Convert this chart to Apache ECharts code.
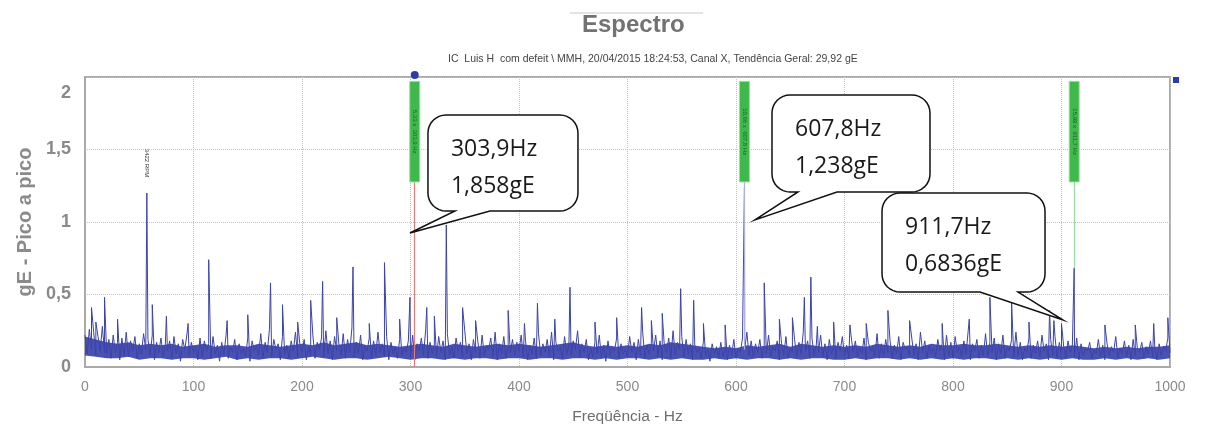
<!DOCTYPE html>
<html><head><meta charset="utf-8">
<script src="https://cdn.jsdelivr.net/npm/echarts@6/dist/echarts.min.js"></script>
<style>html,body{margin:0;padding:0;background:#fff}#c{width:1213px;height:430px}</style>
</head><body><div id="c"></div>
<script>
// ---------- data ----------
const noiseStepHz = 2;
const noiseFloor = [
.22,.09,.26,.12,.24,.08,.21,.11,.28,.10,
.09,.19,.06,.22,.10,.17,.05,.20,.08,.24,
.07,.18,.11,.21,.06,.16,.09,.23,.12,.19,
.08,.22,.05,.17,.10,.20,.07,.15,.11,.18,
.06,.21,.09,.16,.04,.19,.12,.23,.08,.17,
.10,.14,.05,.20,.07,.18,.11,.16,.06,.21,
.09,.15,.04,.17,.08,.22,.06,.14,.10,.19,
.05,.16,.09,.13,.07,.20,.04,.18,.11,.15,
.08,.23,.06,.17,.10,.26,.07,.19,.12,.16,
.05,.21,.09,.15,.06,.18,.11,.24,.07,.16,
.10,.19,.05,.14,.08,.22,.06,.17,.12,.20,
.07,.25,.09,.18,.05,.21,.11,.16,.08,.23,
.06,.19,.10,.27,.07,.17,.09,.22,.05,.15,
.11,.20,.06,.18,.08,.24,.10,.16,.07,.21,
.05,.17,.09,.14,.06,.19,.08,.13,.10,.18,
.07,.22,.05,.16,.11,.20,.08,.26,.06,.17,
.09,.15,.07,.21,.10,.18,.05,.23,.08,.14,
.06,.20,.11,.17,.07,.25,.09,.16,.05,.19,
.10,.18,.06,.22,.08,.15,.12,.20,.07,.24,
.05,.16,.09,.21,.06,.14,.10,.19,.08,.17,
.11,.22,.07,.18,.05,.15,.09,.20,.06,.23,
.08,.16,.10,.19,.07,.24,.05,.17,.11,.14,
.06,.21,.09,.15,.08,.18,.12,.25,.07,.16,
.10,.19,.05,.13,.07,.17,.09,.22,.06,.15,
.04,.18,.08,.14,.11,.20,.06,.16,.09,.12,
.07,.21,.10,.17,.05,.19,.08,.24,.06,.15,
.09,.16,.11,.22,.07,.18,.05,.14,.10,.20,
.06,.25,.08,.17,.12,.21,.07,.19,.09,.16,
.05,.15,.10,.13,.06,.18,.08,.12,.04,.16,
.09,.14,.06,.17,.07,.12,.05,.15,.08,.19,
.06,.13,.10,.20,.12,.24,.08,.18,.07,.16,
.10,.19,.06,.15,.09,.22,.07,.14,.11,.18,
.05,.16,.08,.21,.06,.13,.10,.19,.07,.17,
.09,.24,.11,.18,.06,.20,.08,.15,.10,.22,
.07,.16,.05,.19,.09,.14,.06,.17,.11,.21,
.08,.15,.06,.22,.10,.18,.07,.13,.09,.20,
.05,.17,.11,.14,.07,.23,.06,.16,.08,.19,
.10,.18,.06,.15,.09,.21,.05,.17,.12,.14,
.07,.20,.08,.16,.05,.24,.10,.18,.06,.15,
.09,.13,.07,.19,.11,.16,.05,.22,.08,.17,
.06,.21,.10,.14,.07,.18,.09,.25,.05,.16,
.11,.19,.06,.15,.08,.23,.07,.17,.10,.20,
.05,.16,.09,.22,.06,.14,.11,.19,.07,.24,
.08,.17,.05,.13,.10,.20,.06,.15,.09,.18,
.07,.22,.11,.16,.05,.19,.08,.21,.06,.17,
.09,.14,.06,.18,.10,.15,.07,.20,.05,.16,
.08,.13,.11,.17,.06,.12,.09,.19,.07,.15,
.05,.16,.08,.14,.10,.21,.06,.13,.09,.18,
.07,.15,.05,.19,.08,.12,.10,.17,.06,.14,
.09,.18,.07,.13,.05,.16,.08,.14,.11,.20,
.10
];
// dense noise band envelope, every 10 Hz
const bandStepHz = 10;
const bandLow = [
.08,.07,.06,.06,.07,.05,.06,.06,.05,.06,
.06,.05,.06,.07,.05,.06,.05,.06,.06,.05,
.06,.07,.06,.05,.06,.06,.05,.06,.07,.06,
.05,.06,.06,.05,.06,.05,.06,.06,.05,.06,
.06,.05,.06,.06,.05,.06,.06,.05,.06,.05,
.06,.06,.05,.06,.05,.06,.05,.05,.06,.05,
.06,.05,.06,.06,.05,.06,.05,.06,.06,.05,
.05,.06,.05,.06,.06,.05,.06,.05,.06,.05,
.06,.05,.06,.06,.05,.06,.05,.06,.05,.06,
.05,.06,.05,.05,.06,.05,.06,.05,.06,.05,
.06];
const bandHigh = [
.21,.19,.17,.16,.17,.15,.16,.15,.16,.14,
.15,.16,.14,.15,.15,.14,.16,.15,.14,.15,
.16,.15,.17,.15,.16,.17,.15,.16,.15,.14,
.15,.16,.15,.14,.16,.15,.14,.15,.16,.15,
.16,.15,.14,.15,.16,.17,.15,.14,.15,.14,
.15,.14,.16,.15,.17,.16,.15,.14,.13,.14,
.13,.15,.14,.15,.16,.14,.16,.15,.14,.15,
.14,.15,.14,.16,.15,.14,.15,.14,.16,.15,
.15,.16,.15,.15,.16,.15,.14,.15,.14,.15,
.14,.15,.14,.13,.14,.13,.14,.13,.14,.14,
.15];
// discrete spectral peaks [Hz, gE]
const peakFreqs = [6,10,18,30,57,62,75,95,114,131,150,171,182,196,208,219,232,247,262,276,290,299.5,315,322,333,348,360,390,405,417,433,447,470,490,513,522,532,549,561,570,590,607.8,626,640,652,663,669,675,690,705,720,740,760,790,815,834,854,870,889,893,900,911.7,940,968,985,998];
const peakValues = [.41,.31,.48,.33,1.2,.43,.35,.30,.74,.32,.36,.58,.43,.31,.46,.59,.34,.69,.30,.72,.33,.48,.41,.35,.98,.41,.32,.39,.30,.44,.33,.55,.31,.34,.41,.32,.37,.54,.46,.30,.29,1.238,.58,.33,.34,.48,.62,.28,.31,.29,.30,.39,.32,.30,.33,.48,.45,.31,.39,.32,.30,.6836,.29,.29,.30,.34];
// cursors
const cursorFreqs = [303.9, 607.8, 911.7];
const cursorValues = [1.858, 1.238, 0.6836];
const cursorLineEnds = [0, 0.12, 0.68];
const cursorLineColors = ['#e57a7a', '#aeb0ea', '#9adb9c'];
const cursorTags = ['5,33 x  303,9 Hz', '10,66 x  607,8 Hz', '15,99 x  911,7 Hz'];
const rpmLabel = '3422 RPM';
const rpmFreq = 57;
// axis ticks
const xTickValues = [0,100,200,300,400,500,600,700,800,900,1000];
const yTickLabels = {0:'0', 0.5:'0,5', 1:'1', 1.5:'1,5', 2:'2'};
const titleText = 'Espectro';
const subText = 'IC  Luis H  com defeit \\ MMH, 20/04/2015 18:24:53, Canal X, Tendência Geral: 29,92 gE';

// ---------- build series ----------
const pts = noiseFloor.map((v, i) => [i * noiseStepHz, v]);
peakFreqs.forEach((f, i) => pts.push([f, peakValues[i]]));
pts.sort((a, b) => a[0] - b[0]);

const barTop = 1.97, barBottom = 1.276;
const blue = '#3b43aa';

const chart = echarts.init(document.getElementById('c'), null, {renderer: 'canvas'});
chart.setOption({
  animation: false,
  backgroundColor: '#fff',
  title: [
    {text: titleText, left: 582, top: 13, padding: 0,
     textStyle: {fontSize: 24, fontWeight: 'bold', color: '#727272', fontFamily: 'Liberation Sans'}},
    {text: subText, left: 448, top: 54, padding: 0,
     textStyle: {fontSize: 10.5, fontWeight: 'normal', color: '#444', fontFamily: 'Liberation Sans'}}
  ],
  grid: {left: 85, right: 43, top: 77, bottom: 63, show: true, borderColor: '#a9a9a9', borderWidth: 2, backgroundColor: 'transparent'},
  xAxis: {
    type: 'value', min: 0, max: 1000, interval: 100,
    name: 'Freqüência - Hz', nameLocation: 'middle', nameGap: 42,
    nameTextStyle: {fontSize: 15.5, color: '#6e6e6e', fontFamily: 'Liberation Sans'},
    axisLine: {show: true, lineStyle: {color: '#a9a9a9', width: 2}},
    axisTick: {show: false},
    axisLabel: {fontSize: 14, color: '#8a8a8a', margin: 13, fontFamily: 'Liberation Sans',
      formatter: v => xTickValues.includes(v) ? String(v) : ''},
    splitLine: {show: true, lineStyle: {type: 'dotted', color: '#c4c4c4', width: 1}}
  },
  yAxis: {
    type: 'value', min: 0, max: 2, interval: 0.5,
    name: 'gE - Pico a pico', nameLocation: 'middle', nameGap: 49, nameRotate: 90,
    nameTextStyle: {fontSize: 20, fontWeight: 'bold', color: '#8a8a8a', fontFamily: 'Liberation Sans'},
    axisLine: {show: true, lineStyle: {color: '#a9a9a9', width: 2}},
    axisTick: {show: false},
    axisLabel: {fontSize: 18, fontWeight: 'bold', color: '#8a8a8a', margin: 14, fontFamily: 'Liberation Sans',
      formatter: v => v === 2 ? '{t|' + yTickLabels[v] + '}' : (yTickLabels[v] || ''),
      rich: {t: {fontSize: 18, fontWeight: 'bold', color: '#8a8a8a', padding: [32, 0, 0, 0], fontFamily: 'Liberation Sans'}}},
    splitLine: {show: true, lineStyle: {type: 'dotted', color: '#c4c4c4', width: 1}}
  },
  series: [
    {
      type: 'custom', silent: true, z: 2, data: [0],
      renderItem: (params, api) => {
        const upper = bandHigh.map((v, i) => api.coord([i * bandStepHz, v]));
        const lower = bandLow.map((v, i) => api.coord([i * bandStepHz, v])).reverse();
        return {type: 'polygon', shape: {points: upper.concat(lower)}, style: {fill: blue, opacity: 0.92}};
      }
    },
    {
      type: 'line', data: pts, showSymbol: false, symbol: 'none', sampling: false,
      lineStyle: {width: 1, color: blue}, z: 3,
      markLine: {
        silent: true, symbol: 'none', label: {show: false},
        data: cursorFreqs.map((f, i) => [
          {coord: [f, barBottom], lineStyle: {color: cursorLineColors[i], width: 1.2, type: 'solid'}},
          {coord: [f, cursorLineEnds[i]]}
        ])
      }
    }
  ]
});

// ---------- annotations ----------
function px(f, v) { return chart.convertToPixel({xAxisIndex: 0, yAxisIndex: 0}, [f, v]); }
const calloutTips = [[299.5, 0.924], [617.5, 1.014], [901.4, 0.324]];
const calloutBoxes = [
  {x0: 18, x1: 168, y0: -118, y1: -22, b0: 45, b1: 80},
  {x0: 17, x1: 175, y0: -125, y1: -28, b0: 43, b1: 82},
  {x0: -181, x1: -18, y0: -127, y1: -28, b0: -83, b1: -45}
];
function arc(P, cx, cy, r, a0, a1) {
  for (let k = 0; k <= 8; k++) {
    const a = (a0 + (a1 - a0) * k / 8) * Math.PI / 180;
    P.push([cx + r * Math.cos(a), cy + r * Math.sin(a)]);
  }
}
function bubblePoints(tx, ty, b) {
  const r = 18, P = [];
  const x0 = tx + b.x0, x1 = tx + b.x1, y0 = ty + b.y0, y1 = ty + b.y1;
  arc(P, x0 + r, y0 + r, r, 180, 270);
  arc(P, x1 - r, y0 + r, r, 270, 360);
  arc(P, x1 - r, y1 - r, r, 0, 90);
  P.push([tx + b.b1, y1], [tx, ty], [tx + b.b0, y1]);
  arc(P, x0 + r, y1 - r, r, 90, 180);
  return P;
}
const fmt = v => String(v).replace('.', ',');
const g = [];
g.push({type: 'line', shape: {x1: 570, y1: 13, x2: 703, y2: 13}, style: {stroke: '#c8c8c8', lineWidth: 1}});
cursorFreqs.forEach((f, i) => {
  const t = px(f, barTop), b = px(f, barBottom);
  g.push({type: 'rect', z: 20, shape: {x: t[0] - 5, y: t[1], width: 10, height: b[1] - t[1]},
    style: {fill: '#3fb94c', stroke: '#9be0a0', lineWidth: 1}});
  g.push({type: 'text', z: 21, x: t[0], y: (t[1] + b[1]) / 2, rotation: -Math.PI / 2,
    style: {text: cursorTags[i], fontSize: 6, fill: '#1c5e25', align: 'center', verticalAlign: 'middle', fontFamily: 'Liberation Sans'}});
});
const d = px(cursorFreqs[0], 2);
g.push({type: 'circle', z: 22, shape: {cx: d[0], cy: d[1] - 2, r: 4}, style: {fill: '#2b3bb0'}});
const e = px(1000, 2);
g.push({type: 'rect', z: 22, shape: {x: e[0] + 3, y: e[1], width: 6, height: 6}, style: {fill: '#2b3bb0'}});
const rp = px(rpmFreq, peakValues[peakFreqs.indexOf(rpmFreq)]);
g.push({type: 'text', z: 21, x: rp[0], y: rp[1] - 30, rotation: -Math.PI / 2,
  style: {text: rpmLabel, fontSize: 6, fill: '#333', align: 'center', verticalAlign: 'middle', fontFamily: 'Liberation Sans'}});
calloutTips.forEach((tp, i) => {
  const p = px(tp[0], tp[1]);
  const b = calloutBoxes[i];
  g.push({type: 'polygon', z: 30, shape: {points: bubblePoints(p[0], p[1], b)},
    style: {fill: '#fff', stroke: '#111', lineWidth: 1.5}});
  const lx = p[0] + b.x0 + 23, ly = p[1] + b.y0;
  g.push({type: 'text', z: 31, x: lx, y: ly + 34,
    style: {text: fmt(cursorFreqs[i]) + 'Hz', fontSize: 23, fill: '#1a1a1a', verticalAlign: 'middle', fontFamily: 'Open Sans'}});
  g.push({type: 'text', z: 31, x: lx, y: ly + 71,
    style: {text: fmt(cursorValues[i]) + 'gE', fontSize: 23, fill: '#1a1a1a', verticalAlign: 'middle', fontFamily: 'Open Sans'}});
});
chart.setOption({graphic: g});
</script>
</body></html>
